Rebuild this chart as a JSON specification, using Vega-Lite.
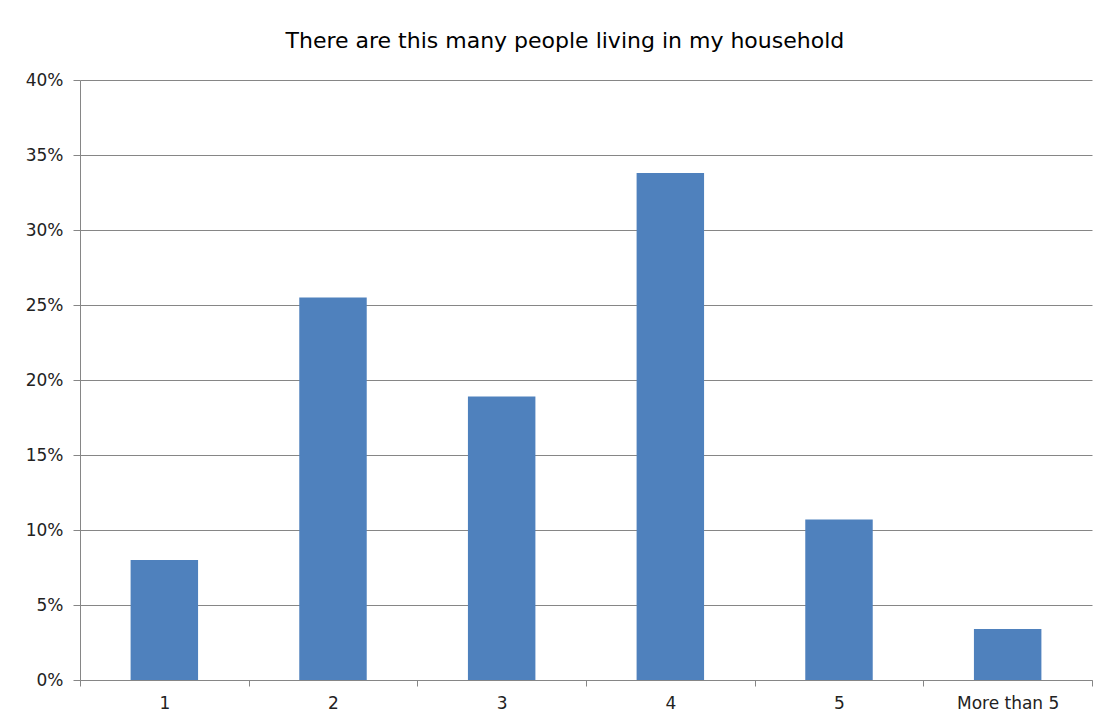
{
  "$schema": "https://vega.github.io/schema/vega-lite/v6.json",
  "width": 1012,
  "height": 600,
  "autosize": "none",
  "padding": {"left": 80, "top": 80, "right": 17, "bottom": 48},
  "background": "white",
  "title": {
    "text": "There are this many people living in my household",
    "font": "DejaVu Sans",
    "fontSize": 22,
    "fontWeight": "normal",
    "color": "#000000",
    "anchor": "middle",
    "frame": "bounds",
    "offset": 18,
    "dx": 6
  },
  "data": {
    "values": [
      {"size": "1", "pct": 0.080},
      {"size": "2", "pct": 0.255},
      {"size": "3", "pct": 0.189},
      {"size": "4", "pct": 0.338},
      {"size": "5", "pct": 0.107},
      {"size": "More than 5", "pct": 0.034}
    ]
  },
  "mark": {"type": "bar", "color": "#4F81BD", "width": {"band": 0.4}},
  "encoding": {
    "x": {
      "field": "size",
      "type": "nominal",
      "sort": null,
      "scale": {"paddingInner": 0, "paddingOuter": 0},
      "axis": {
        "title": null,
        "labelAngle": 0,
        "tickBand": "extent",
        "grid": false,
        "domainColor": "#868686",
        "tickColor": "#868686",
        "tickSize": 6,
        "labelPadding": 9,
        "labelFont": "DejaVu Sans",
        "labelFontSize": 17,
        "labelColor": "#222222"
      }
    },
    "y": {
      "field": "pct",
      "type": "quantitative",
      "scale": {"domain": [0, 0.4], "nice": false},
      "axis": {
        "title": null,
        "format": ".0%",
        "values": [0, 0.05, 0.1, 0.15, 0.2, 0.25, 0.3, 0.35, 0.4],
        "grid": true,
        "gridColor": "#868686",
        "gridWidth": 1,
        "domainColor": "#868686",
        "tickColor": "#868686",
        "tickSize": 7,
        "labelPadding": 10,
        "labelFont": "DejaVu Sans",
        "labelFontSize": 17,
        "labelColor": "#222222"
      }
    }
  },
  "config": {
    "view": {"stroke": null}
  }
}
